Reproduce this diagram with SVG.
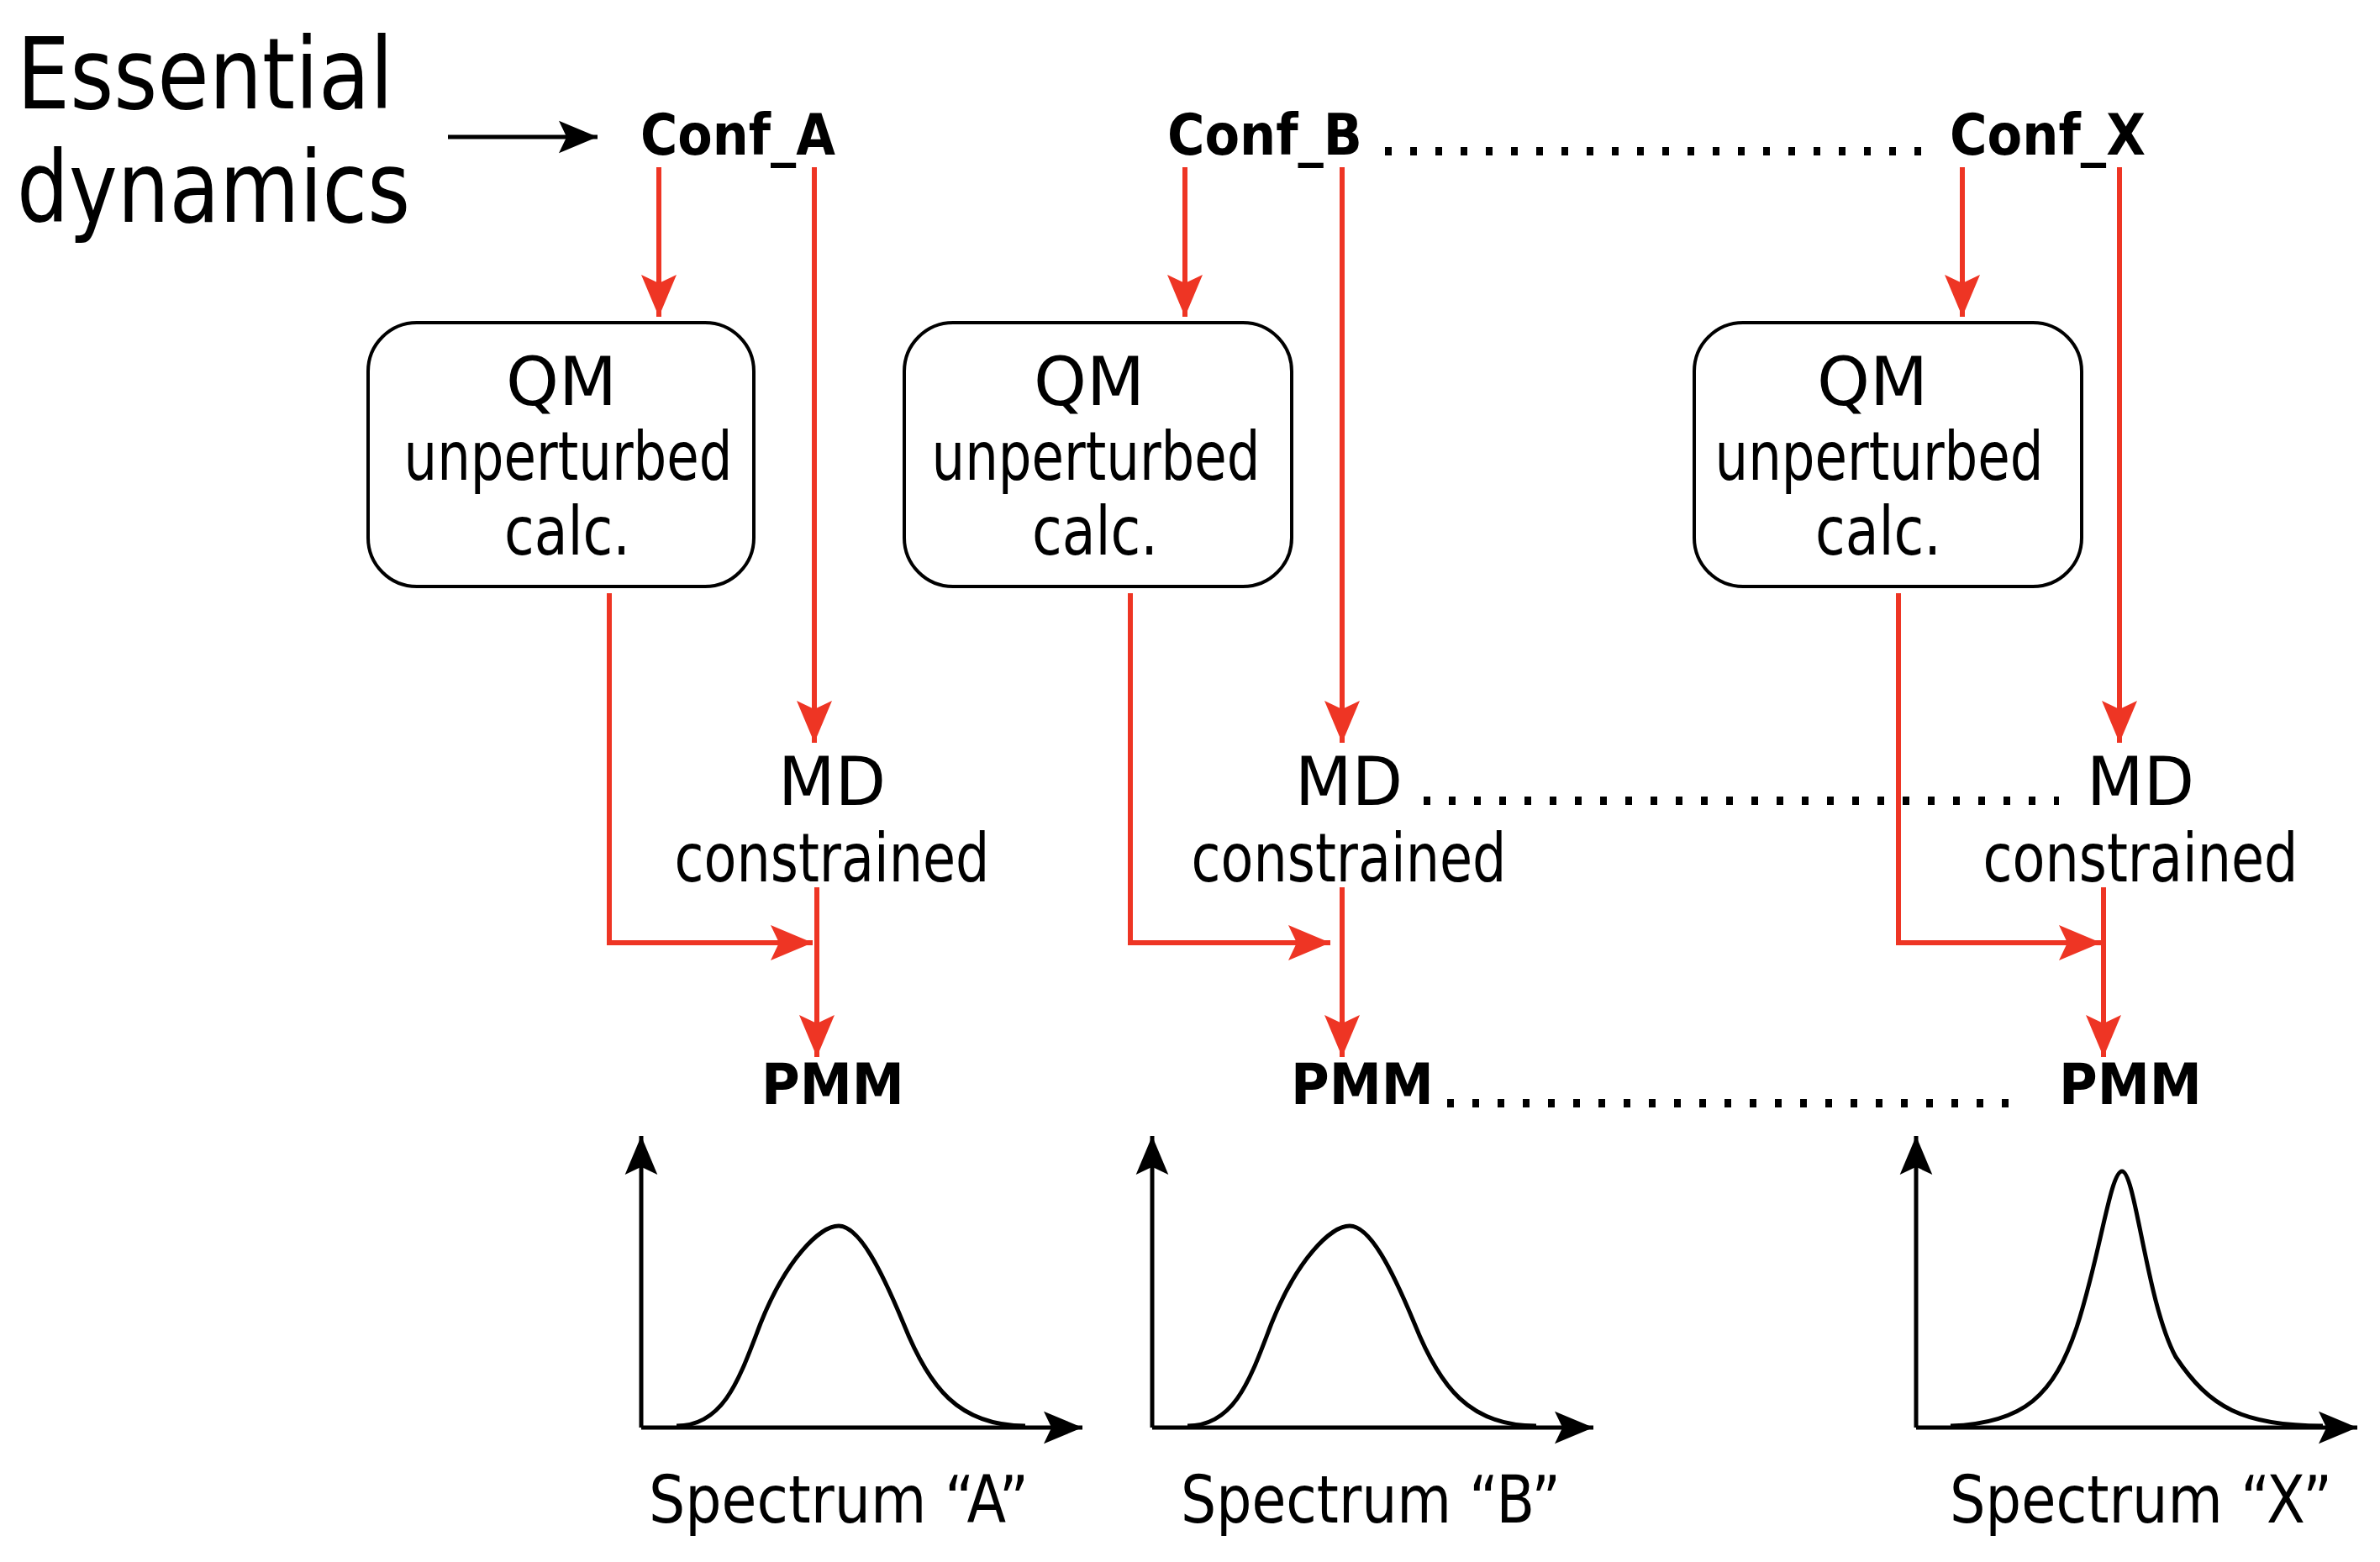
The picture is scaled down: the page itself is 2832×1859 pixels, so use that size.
<svg xmlns="http://www.w3.org/2000/svg" width="2832" height="1859" viewBox="0 0 2832 1859">
<style>
text{font-family:"DejaVu Sans","Liberation Sans",sans-serif;fill:#000}
.t{font-size:80px;text-anchor:middle}
.b{font-size:68px;font-weight:bold}
.red{stroke:#ee3524;stroke-width:6;fill:none}
.blk{stroke:#000;stroke-width:5;fill:none}
.dot{stroke:#000;stroke-width:10;stroke-dasharray:8 22;fill:none}
.box{fill:#fff;stroke:#000;stroke-width:4}
</style>
<defs>
<marker id="rah" viewBox="0 0 50 42" markerWidth="50" markerHeight="42" refX="50" refY="21" orient="auto" markerUnits="userSpaceOnUse">
<path d="M0,0 L50,21 L0,42 L10,21 z" fill="#ee3524"/>
</marker>
<marker id="bah" viewBox="0 0 50 42" markerWidth="46" markerHeight="40" refX="50" refY="21" orient="auto" markerUnits="userSpaceOnUse">
<path d="M0,0 L50,21 L0,42 L10,21 z" fill="#000"/>
</marker>
</defs>
<g id="title">
<text x="20" y="129" font-size="118" textLength="448" lengthAdjust="spacingAndGlyphs">Essential</text>
<text x="20" y="264" font-size="118" textLength="468" lengthAdjust="spacingAndGlyphs">dynamics</text>
</g>
<g id="conf_a"><text class="b" x="762" y="184" textLength="232" lengthAdjust="spacingAndGlyphs">Conf_A</text></g>
<g id="conf_b"><text class="b" x="1389" y="184" textLength="232" lengthAdjust="spacingAndGlyphs">Conf_B</text></g>
<g id="conf_x"><text class="b" x="2320" y="184" textLength="233" lengthAdjust="spacingAndGlyphs">Conf_X</text></g>
<g id="qm_a"><rect class="box" x="438" y="384" width="459" height="314" rx="58"/>
<text class="t" x="668" y="482">QM</text><text class="t" x="676" y="571" textLength="391" lengthAdjust="spacingAndGlyphs">unperturbed</text><text class="t" x="675" y="660" textLength="150" lengthAdjust="spacingAndGlyphs">calc.</text></g>
<g id="qm_b"><rect class="box" x="1076" y="384" width="461" height="314" rx="58"/>
<text class="t" x="1296" y="482">QM</text><text class="t" x="1304" y="571" textLength="391" lengthAdjust="spacingAndGlyphs">unperturbed</text><text class="t" x="1303" y="660" textLength="150" lengthAdjust="spacingAndGlyphs">calc.</text></g>
<g id="qm_x"><rect class="box" x="2016" y="384" width="461" height="314" rx="58"/>
<text class="t" x="2228" y="482">QM</text><text class="t" x="2236" y="571" textLength="391" lengthAdjust="spacingAndGlyphs">unperturbed</text><text class="t" x="2235" y="660" textLength="150" lengthAdjust="spacingAndGlyphs">calc.</text></g>
<g id="md_a"><text class="t" x="990" y="958" textLength="128" lengthAdjust="spacingAndGlyphs">MD</text><text class="t" x="990" y="1049" textLength="375" lengthAdjust="spacingAndGlyphs">constrained</text></g>
<g id="md_b"><text class="t" x="1605" y="958" textLength="128" lengthAdjust="spacingAndGlyphs">MD</text><text class="t" x="1605" y="1049" textLength="375" lengthAdjust="spacingAndGlyphs">constrained</text></g>
<g id="md_x"><text class="t" x="2547" y="958" textLength="128" lengthAdjust="spacingAndGlyphs">MD</text><text class="t" x="2547" y="1049" textLength="375" lengthAdjust="spacingAndGlyphs">constrained</text></g>
<g id="pmm_a"><text class="b" x="906" y="1314" textLength="170" lengthAdjust="spacingAndGlyphs">PMM</text></g>
<g id="pmm_b"><text class="b" x="1536" y="1314" textLength="170" lengthAdjust="spacingAndGlyphs">PMM</text></g>
<g id="pmm_x"><text class="b" x="2450" y="1314" textLength="170" lengthAdjust="spacingAndGlyphs">PMM</text></g>
<g id="spectrum_a">
<path class="blk" d="M763,1699 V1352" marker-end="url(#bah)"/>
<path class="blk" d="M763,1699 H1288" marker-end="url(#bah)"/>
<path class="blk" d="M805,1697 C862,1697 880,1640 905,1575 C935,1500 975,1459 998,1459 C1022,1459 1048,1510 1075,1575 C1105,1650 1140,1697 1220,1697"/>
<text x="772" y="1812" font-size="78" textLength="452" lengthAdjust="spacingAndGlyphs">Spectrum “A”</text>
</g>
<g id="spectrum_b">
<path class="blk" d="M1371,1699 V1352" marker-end="url(#bah)"/>
<path class="blk" d="M1371,1699 H1896" marker-end="url(#bah)"/>
<path class="blk" d="M1413,1697 C1470,1697 1488,1640 1513,1575 C1543,1500 1583,1459 1606,1459 C1630,1459 1656,1510 1683,1575 C1713,1650 1748,1697 1828,1697"/>
<text x="1405" y="1812" font-size="78" textLength="452" lengthAdjust="spacingAndGlyphs">Spectrum “B”</text>
</g>
<g id="spectrum_x">
<path class="blk" d="M2280,1699 V1352" marker-end="url(#bah)"/>
<path class="blk" d="M2280,1699 H2805" marker-end="url(#bah)"/>
<path class="blk" d="M2321,1697 C2409,1694 2444,1660 2471,1580 C2499,1495 2511,1394 2525,1394 C2541,1394 2554,1550 2589,1615 C2629,1675 2669,1697 2764,1697"/>
<text x="2320" y="1812" font-size="78" textLength="455" lengthAdjust="spacingAndGlyphs">Spectrum “X”</text>
</g>
<g id="connectors">
<path class="blk" d="M533,163 H711" marker-end="url(#bah)"/>
<path class="dot" d="M1648,180 H2300"/>
<path class="dot" d="M1694,953 H2450"/>
<path class="dot" d="M1722,1313 H2410"/>
<path class="red" d="M784,199 V377" marker-end="url(#rah)"/>
<path class="red" d="M969,199 V884" marker-end="url(#rah)"/>
<path class="red" d="M725,706 V1122 H967" marker-end="url(#rah)"/>
<path class="red" d="M972,1056 V1258" marker-end="url(#rah)"/>
<path class="red" d="M1410,199 V377" marker-end="url(#rah)"/>
<path class="red" d="M1597,199 V884" marker-end="url(#rah)"/>
<path class="red" d="M1345,706 V1122 H1583" marker-end="url(#rah)"/>
<path class="red" d="M1597,1056 V1258" marker-end="url(#rah)"/>
<path class="red" d="M2335,199 V377" marker-end="url(#rah)"/>
<path class="red" d="M2522,199 V884" marker-end="url(#rah)"/>
<path class="red" d="M2259,706 V1122 H2500" marker-end="url(#rah)"/>
<path class="red" d="M2503,1056 V1258" marker-end="url(#rah)"/>
</g>
</svg>
